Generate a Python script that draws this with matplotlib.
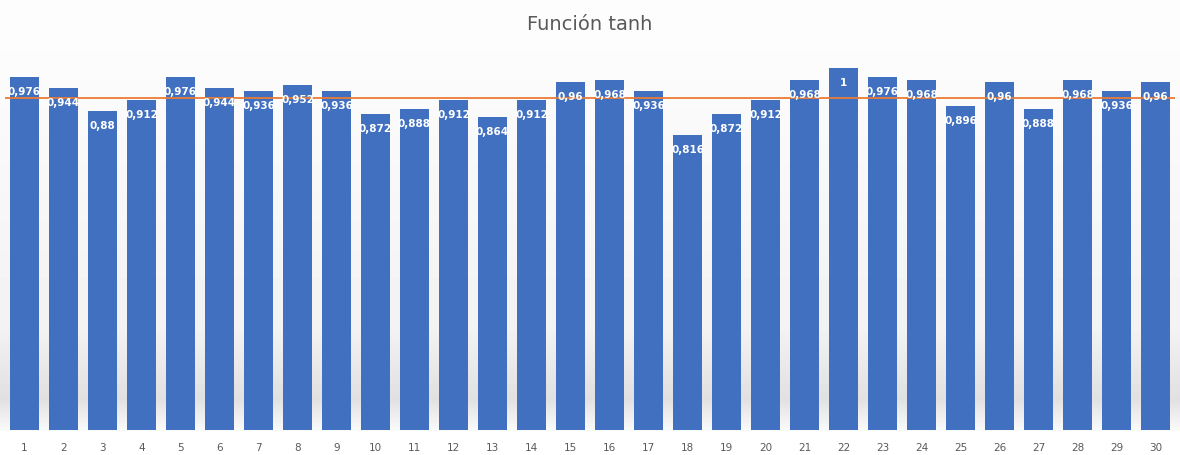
import numpy as np
import matplotlib
matplotlib.use("Agg")
import matplotlib.pyplot as plt

categories = [str(i) for i in range(1, 31)]
values = [0.976, 0.944, 0.88, 0.912, 0.976, 0.944, 0.936, 0.952, 0.936, 0.872,
          0.888, 0.912, 0.864, 0.912, 0.96, 0.968, 0.936, 0.816, 0.872, 0.912,
          0.968, 1.0, 0.976, 0.968, 0.896, 0.96, 0.888, 0.968, 0.936, 0.96]
ref_value = 0.918
title = "Función tanh"

W, H = 1180, 456
fig = plt.figure(figsize=(W / 100, H / 100), dpi=100)
fig.patch.set_facecolor("white")

# background gradient
bg = fig.add_axes([0, 0, 1, 1], zorder=0)
bg.set_axis_off()
ys = np.linspace(0, 1, 456)
prof = np.ones_like(ys)
for i, y in enumerate(ys):
    py = y * 456
    if py < 40:
        prof[i] = 0.99
    elif py < 330:
        prof[i] = 0.99 - 0.04 * (py - 40) / 290
    elif py < 400:
        prof[i] = 0.95 - 0.07 * (py - 330) / 70
    elif py < 432:
        prof[i] = 0.88 + 0.10 * (py - 400) / 32
    else:
        prof[i] = 1.0
img = np.repeat(prof[:, None], 10, axis=1)
bg.imshow(img, cmap="gray", vmin=0, vmax=1, aspect="auto", extent=[0, 1, 1, 0])
bg.set_xlim(0, 1)
bg.set_ylim(1, 0)

left, right = 5 / W, 1175 / W
bottom, top = (H - 431) / H, (H - 69) / H
ax = fig.add_axes([left, bottom, right - left, top - bottom], zorder=1)
ax.patch.set_alpha(0)

x = np.arange(1, 31)
ax.bar(x, values, width=0.72, color="#4170C0", zorder=2)
ax.axhline(ref_value, color="#EC7A36", linewidth=1.3, zorder=3)

for xi, v in zip(x, values):
    lab = ("%g" % v).replace(".", ",")
    ax.annotate(lab, (xi, v), xytext=(0, -14), textcoords="offset pixels",
                ha="center", va="center", color="white", fontsize=7.5,
                fontweight="bold", zorder=4)

ax.set_xlim(0.5, 30.5)
ax.set_ylim(0, 1.0)
ax.set_xticks(x)
ax.set_xticklabels(categories, fontsize=7.5, color="#595959")
ax.tick_params(axis="x", length=0, pad=9)
ax.set_yticks([])
for s in ax.spines.values():
    s.set_visible(False)

fig.text(0.5, 1 - 25 / H, title, ha="center", va="center", fontsize=14,
         color="#595959")

fig.savefig("out.png", dpi=100)
